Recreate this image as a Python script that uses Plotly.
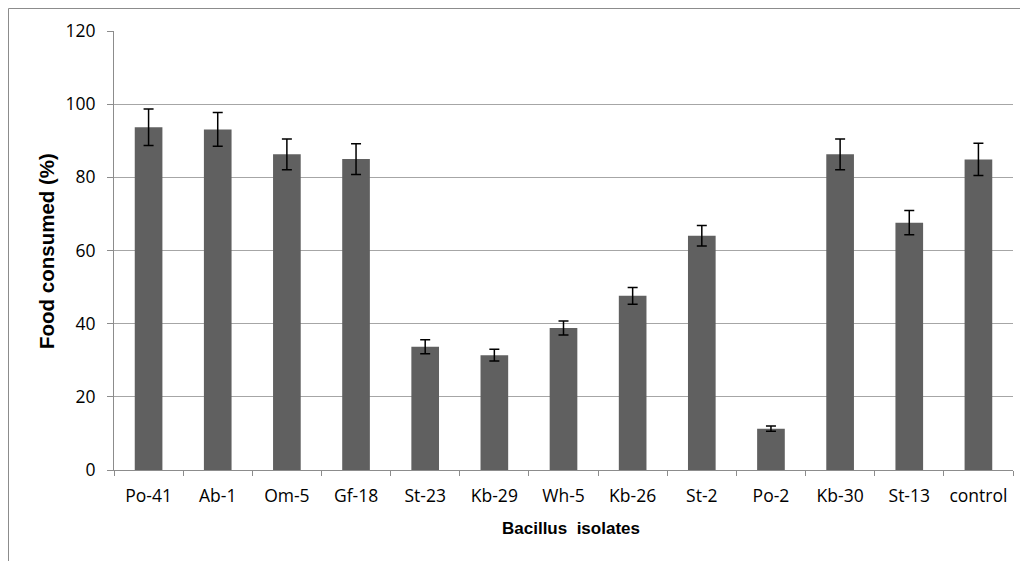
import plotly.graph_objects as go

categories = ["Po-41", "Ab-1", "Om-5", "Gf-18", "St-23", "Kb-29", "Wh-5",
              "Kb-26", "St-2", "Po-2", "Kb-30", "St-13", "control"]
food_consumed = [93.7, 93.1, 86.3, 85.0, 33.7, 31.4, 38.8, 47.6, 64.0, 11.3, 86.3, 67.6, 84.9]
errors = [5.0, 4.6, 4.2, 4.2, 1.9, 1.6, 1.9, 2.3, 2.8, 0.7, 4.2, 3.3, 4.4]
y_ticks = [0, 20, 40, 60, 80, 100, 120]

W, H = 1028, 561
# page has an 8px body offset; plot area in page coords: x 114..1013, y 31..470
L, R, T, B = 106, 23, 23, 99
PW, PH = W - L - R, H - T - B

fig = go.Figure()
fig.add_trace(go.Bar(
    x=categories, y=food_consumed,
    marker=dict(color="#606060", line=dict(width=0)),
    error_y=dict(type="data", array=errors, visible=True,
                 color="#000000", thickness=1.5, width=5),
))

tick_font = dict(family="Open Sans, Liberation Sans, sans-serif",
                 size=17.5, color="#000000")

fig.update_layout(
    width=W, height=H,
    margin=dict(l=L, r=R, t=T, b=B, autoexpand=False),
    paper_bgcolor="white", plot_bgcolor="white",
    bargap=0.6,
    showlegend=False,
    xaxis=dict(
        type="category",
        showline=True, linecolor="#8c8c8c", linewidth=1,
        ticks="outside", ticklen=5, tickcolor="#8c8c8c",
        tickson="boundaries",
        tickfont=tick_font,
        ticklabelstandoff=10,
        showgrid=False,
    ),
    yaxis=dict(
        range=[0, 120], tickvals=y_ticks,
        showline=True, linecolor="#8c8c8c", linewidth=1,
        ticks="outside", ticklen=6, tickcolor="#8c8c8c",
        tickfont=tick_font,
        ticklabelstandoff=8,
        showgrid=True, gridcolor="#a6a6a6", gridwidth=1,
        zeroline=False,
    ),
    annotations=[
        dict(text="<b>Bacillus  isolates</b>", xref="paper", yref="paper",
             x=(563 - L) / PW, y=(H - B - 520) / PH,
             xanchor="center", yanchor="middle", showarrow=False,
             font=dict(family="Liberation Sans, Arial, sans-serif", size=17, color="#000000")),
        dict(text="<b>Food consumed (%)</b>", xref="paper", yref="paper",
             x=(39 - L) / PW, y=(H - B - 243) / PH, textangle=-90,
             xanchor="center", yanchor="middle", showarrow=False,
             font=dict(family="Liberation Sans, Arial, sans-serif", size=20.5, color="#000000")),
    ],
)

# outer chart border (extends beyond right and bottom edges)
fig.add_shape(type="rect", xref="paper", yref="paper",
              x0=(0.5 - L) / PW, x1=1.2, y0=-0.5, y1=1 + (T - 0.5) / PH,
              line=dict(color="#8c8c8c", width=1), fillcolor="rgba(0,0,0,0)",
              layer="below")

fig.write_html("out.html")
